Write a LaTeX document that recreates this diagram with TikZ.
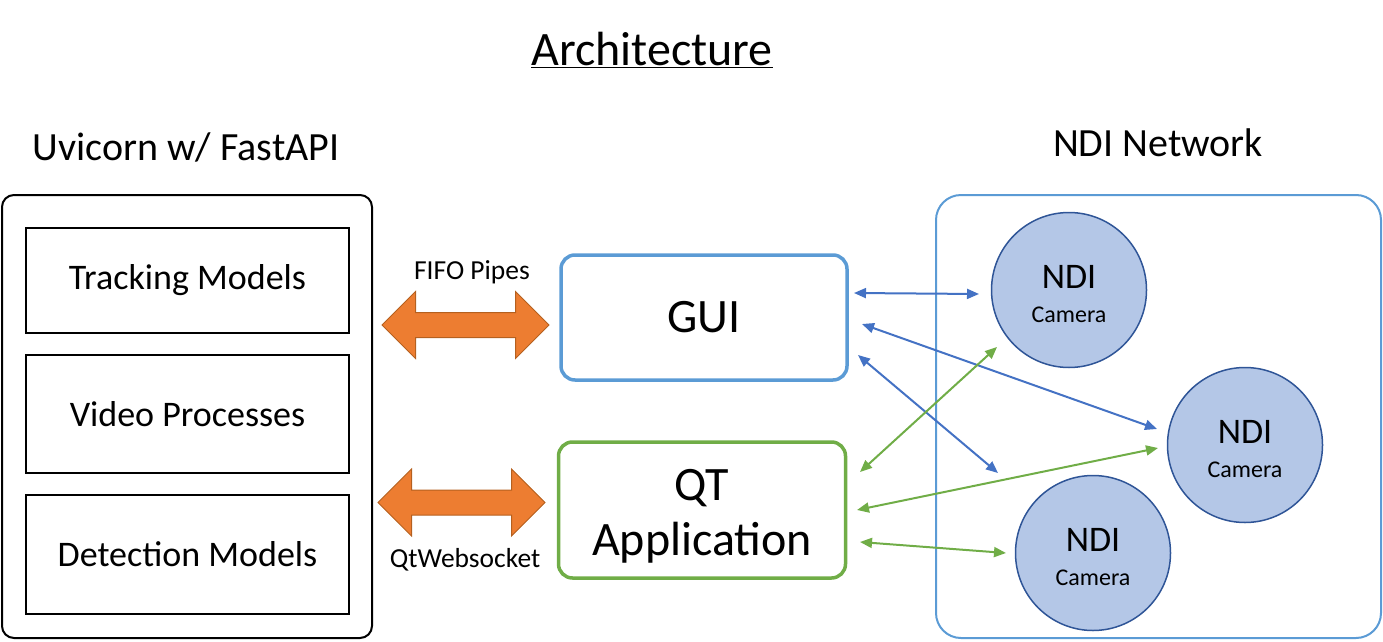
\documentclass[tikz,border=0pt]{standalone}
\usepackage{fontspec}
\setmainfont{Carlito}
\usetikzlibrary{arrows.meta,shapes.arrows}
\definecolor{boxblue}{HTML}{5B9BD5}
\definecolor{boxgreen}{HTML}{70AD47}
\definecolor{arrblue}{HTML}{4472C4}
\definecolor{orfill}{HTML}{ED7D31}
\definecolor{ordraw}{HTML}{B5601F}
\definecolor{camfill}{HTML}{B4C7E7}
\definecolor{camdraw}{HTML}{2F5597}
\tikzset{
  inbox/.style={draw=black, line width=2pt, minimum width=323pt, inner sep=0pt, font=\fontsize{36}{40}\selectfont},
  appbox/.style={rounded corners=14pt, line width=3.5pt, inner sep=0pt, align=center, font=\fontsize{48}{55}\selectfont},
  cam/.style={circle, draw=camdraw, fill=camfill, line width=1.5pt, minimum size=155pt, inner sep=0pt, align=center, font=\fontsize{24}{34}\selectfont},
  blockarrow/.style={shape=double arrow, draw=ordraw, fill=orfill, line width=1pt, double arrow head extend=21pt, inner sep=12pt, minimum height=167pt, minimum width=66pt},
  link/.style={line width=2pt, {Triangle[length=12pt,width=10pt]}-{Triangle[length=12pt,width=10pt]}},
  heading/.style={font=\fontsize{40}{44}\selectfont},
  smalllabel/.style={font=\fontsize{27.5}{30}\selectfont}
}
\newcommand{\camlabel}{\rule{0pt}{32pt}{\fontsize{36}{34}\selectfont NDI}\\Camera}
\begin{document}
\begin{tikzpicture}[x=1pt,y=-1pt]
\useasboundingbox (0,0) rectangle (1383,642);
% titles
\node[font=\fontsize{48}{52}\selectfont] (title) at (652,50) {\underline{Architecture}};
\node[heading] (uvtitle) at (186,147) {Uvicorn w/ FastAPI};
\node[heading] (ndititle) at (1158,143) {NDI Network};
% left server box
\node[draw=black, line width=2pt, rounded corners=12pt, minimum width=370pt, minimum height=443pt, inner sep=0pt] (server) at (187,416.5) {};
\node[inbox, minimum height=105pt] (track) at (187.5,280.5) {Tracking Models};
\node[inbox, minimum height=118pt] (video) at (187.5,414) {Video Processes};
\node[inbox, minimum height=119pt] (detect) at (187.5,554.5) {Detection Models};
% NDI network box
\node[draw=boxblue, line width=2pt, rounded corners=25pt, minimum width=445pt, minimum height=443pt, inner sep=0pt] (ndinet) at (1158.5,416.5) {};
% app boxes
\node[appbox, draw=boxblue, minimum width=286pt, minimum height=125pt] (gui) at (704,317.5) {GUI};
\node[appbox, draw=boxgreen, minimum width=287pt, minimum height=136pt] (qt) at (702,510) {\rule{0pt}{44pt}QT\\Application};
% block arrows
\node[blockarrow] (fifo) at (465.5,325) {};
\node[blockarrow] (qtws) at (461.5,502.5) {};
\node[smalllabel] (fifolbl) at (472,272) {FIFO Pipes};
\node[smalllabel] (qtwslbl) at (465,560) {QtWebsocket};
% cameras
\node[cam] (cam1) at (1069,290) {\camlabel};
\node[cam] (cam2) at (1245,445) {\camlabel};
\node[cam] (cam3) at (1093,553) {\camlabel};
% connector endpoints
\coordinate (g1) at (854,293);
\coordinate (g2) at (862,324);
\coordinate (g3) at (858,355);
\coordinate (q1) at (860,472);
\coordinate (q2) at (857,510);
\coordinate (q3) at (860,542);
\coordinate (c1a) at (979,294);
\coordinate (c1b) at (997,347);
\coordinate (c2a) at (1157,429);
\coordinate (c2b) at (1158,448);
\coordinate (c3a) at (998,473);
\coordinate (c3b) at (1006,553);
\draw[link, arrblue] (g1) -- (c1a);
\draw[link, arrblue] (g2) -- (c2a);
\draw[link, arrblue] (g3) -- (c3a);
\draw[link, boxgreen] (q1) -- (c1b);
\draw[link, boxgreen] (q2) -- (c2b);
\draw[link, boxgreen] (q3) -- (c3b);
\end{tikzpicture}
\end{document}
